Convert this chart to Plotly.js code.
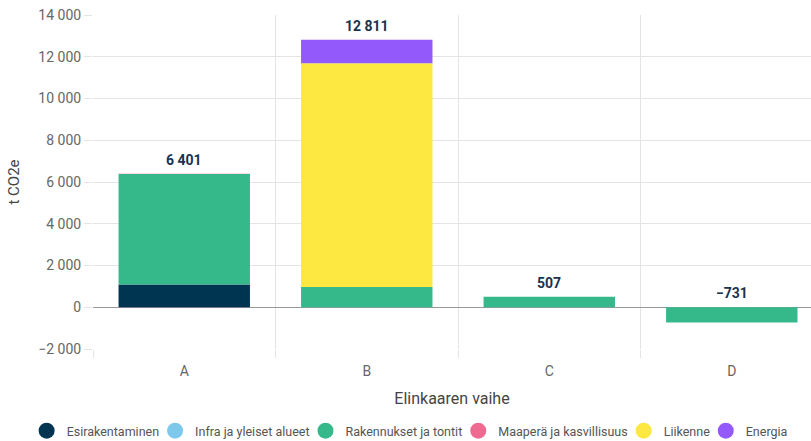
<!DOCTYPE html>
<html>
<head>
<meta charset="utf-8">
<script src="https://cdn.plot.ly/plotly-3.0.1.min.js"></script>
<style>html,body{margin:0;padding:0;background:#fff;}#chart{width:811px;height:441px;}</style>
</head>
<body>
<div id="chart"></div>
<script>
const categories = ["A", "B", "C", "D"];
const seriesNames = ["Esirakentaminen", "Infra ja yleiset alueet", "Rakennukset ja tontit", "Maaperä ja kasvillisuus", "Liikenne", "Energia"];
const esirakentaminen = [1090, 0, 0, 0];
const infra = [0, 0, 0, 0];
const rakennukset = [5296, 975, 507, -731];
const maapera = [15, 0, 0, 0];
const liikenne = [0, 10713, 0, 0];
const energia = [0, 1123, 0, 0];
const totals = [6401, 12811, 507, -731];
const colors = ["#003552", "#7ec8ec", "#35b98b", "#ef6a91", "#fde841", "#9359fb"];

const seriesValues = [esirakentaminen, infra, rakennukset, maapera, liikenne, energia];
const font = "Roboto, 'Liberation Sans', Arial, sans-serif";
const legendFontSize = 12.5;

// measure legend text so entries can sit close together like the reference
const cv = document.createElement("canvas").getContext("2d");
cv.font = legendFontSize + "px Roboto";
const textW = seriesNames.map(n => cv.measureText(n).width);
const legendW = textW.map((w, i) => i < textW.length - 1 ? Math.max(w - 9, 10) : w);
const totalLegend = legendW.reduce((a, b) => a + b, 0) + seriesNames.length * 45;

const traces = [];
seriesValues.forEach((vals, i) => {
  traces.push({
    type: "bar", name: seriesNames[i], x: categories, y: vals,
    marker: {color: colors[i], line: {width: 0}}, showlegend: false,
    hoverinfo: "skip", width: 0.72
  });
});
seriesNames.forEach((n, i) => {
  traces.push({
    type: "scatter", mode: "markers", name: n, x: [null], y: [null],
    marker: {color: colors[i], size: 16, symbol: "circle"}, showlegend: true,
    legendwidth: legendW[i]
  });
});

const annotations = categories.map((c, i) => {
  const pos = seriesValues.reduce((s, v) => s + (v[i] > 0 ? v[i] : 0), 0);
  return {
    x: c, y: pos, xref: "x", yref: "y", yanchor: "bottom", showarrow: false,
    yshift: 4,
    text: "<b>" + totals[i].toLocaleString("fi-FI").replace(/\u00a0/g, " ").replace("-", "\u2212") + "</b>",
    font: {family: font, size: 14, color: "#1a3350"}
  };
});

const W = 811, H = 441, mL = 93, mR = 0, mT = 15, mB = 92;
const plotW = W - mL - mR, plotH = H - mT - mB;
const legendLeft = W / 2 - totalLegend / 2 + 4;
const legendCenterY = 431;

const layout = {
  width: W, height: H,
  barmode: "relative",
  separators: ", ",
  margin: {l: mL, r: mR, t: mT, b: mB, autoexpand: false},
  paper_bgcolor: "#fff", plot_bgcolor: "#fff",
  font: {family: font, size: 13, color: "#666"},
  xaxis: {
    type: "category", range: [-0.5, 3.434], tickson: "boundaries",
    showgrid: true, gridcolor: "#e4e4e4", gridwidth: 1,
    ticks: "outside", ticklen: 8, tickcolor: "#e4e4e4",
    ticklabelstandoff: 12,
    tickfont: {size: 14, color: "#666"},
    title: {text: "Elinkaaren vaihe", font: {size: 16, color: "#444"}, standoff: 14},
    showline: false, zeroline: false, fixedrange: true
  },
  yaxis: {
    range: [-2000, 14000], dtick: 2000, tickformat: ",d",
    showgrid: true, gridcolor: "#e4e4e4", gridwidth: 1,
    ticks: "outside", ticklen: 8, tickcolor: "#e4e4e4",
    tickfont: {size: 14, color: "#666"},
    zeroline: true, zerolinecolor: "#999", zerolinewidth: 1.3,
    title: {text: "t CO2e", font: {size: 15, color: "#444"}, standoff: 14},
    showline: false, fixedrange: true
  },
  legend: {
    orientation: "h", xref: "paper", yref: "paper",
    x: (legendLeft - mL) / plotW, xanchor: "left",
    y: -(legendCenterY - (H - mB)) / plotH, yanchor: "middle",
    font: {size: legendFontSize, color: "#555"}, itemsizing: "trace", itemwidth: 30,
    tracegroupgap: 0
  },
  annotations: annotations,
  showlegend: true
};

Plotly.newPlot("chart", traces, layout, {displayModeBar: false, staticPlot: true});
</script>
</body>
</html>
